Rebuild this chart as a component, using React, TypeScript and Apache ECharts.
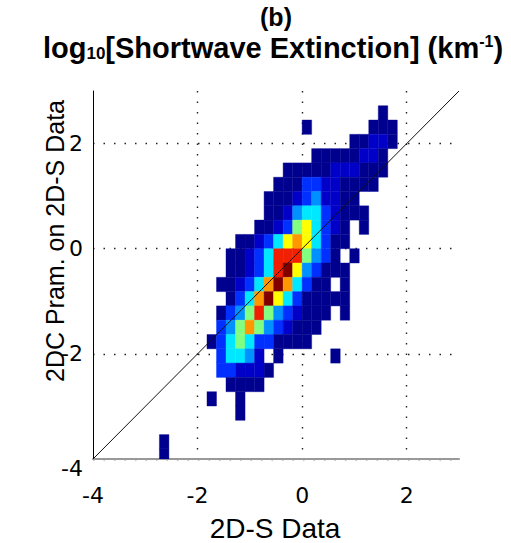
import React, { useEffect, useRef } from 'react';
import * as echarts from 'echarts';

// Histogram bin sizes (data units)
const binWidthX = 0.182;
const binHeightY = 0.272;

// Each row: bin index j (y), first bin index i (x), colour levels (1..10, 0 = empty)
const rowIndices = [9, 8, 7, 6, 5, 4, 3, 2, 1, 0, -1, -2, -3, -4, -5, -6, -7, -8, -9, -10, -11, -12, -14, -15];
const rowStarts = [8, 0, 5, 1, -2, -3, -4, -4, -5, -7, -8, -8, -9, -8, -9, -9, -10, -9, -9, -8, -10, -7, -15, -15];
const rowLevels = [
  [1],
  [1, 0, 0, 0, 0, 0, 0, 1, 1, 1],
  [1, 1, 2, 2, 1],
  [1, 1, 1, 1, 1, 2, 2, 1],
  [1, 1, 1, 1, 1, 2, 2, 2, 1, 1, 1],
  [1, 1, 1, 3, 3, 2, 2, 1, 1, 1, 1],
  [1, 1, 1, 2, 3, 4, 2, 2, 1, 1],
  [1, 1, 2, 4, 5, 5, 3, 2, 1, 1, 1],
  [1, 1, 2, 3, 6, 7, 5, 3, 2, 1, 0, 1],
  [1, 1, 2, 3, 5, 7, 8, 7, 5, 3, 1, 1],
  [1, 1, 2, 3, 5, 9, 9, 9, 6, 4, 3, 1, 0, 1],
  [1, 1, 2, 3, 5, 9, 10, 7, 4, 3, 1, 1, 1],
  [1, 1, 2, 3, 5, 8, 10, 8, 5, 3, 1, 1, 0, 1],
  [1, 3, 5, 8, 10, 7, 5, 3, 1, 1, 1, 1, 1],
  [1, 3, 4, 6, 9, 6, 4, 3, 2, 1, 1, 1, 0, 1],
  [3, 4, 6, 8, 6, 4, 3, 2, 1, 1, 1],
  [1, 3, 5, 6, 5, 3, 3, 1, 1, 1, 1],
  [3, 5, 5, 4, 2, 0, 1, 0, 0, 0, 0, 0, 1],
  [3, 3, 2, 2, 2, 1],
  [1, 1, 1, 1],
  [1, 0, 0, 1],
  [1],
  [1],
  [1],
];

// jet-like colours for levels 1..10
const levelColors = [
  '#00008f', '#0000c8', '#0030ff', '#0090ff', '#00e8ff',
  '#80ff80', '#ffff00', '#ff9800', '#f02000', '#800000',
];

const axisMin = -4;
const axisMax = 3;
const tickInterval = 2;
const diagonal = [[-4, -4], [3, 3]];

const TICK_FONT = 'DejaVu Sans';
const TEXT_FONT = 'Liberation Sans';

function buildCells() {
  const cells: number[][] = [];
  rowIndices.forEach((j, r) => {
    rowLevels[r].forEach((lvl, k) => {
      if (lvl <= 0) return;
      const i = rowStarts[r] + k;
      cells.push([i * binWidthX, j * binHeightY, (i + 1) * binWidthX, (j + 1) * binHeightY, lvl]);
    });
  });
  return cells;
}

export default function App() {
  const ref = useRef<HTMLDivElement>(null);
  useEffect(() => {
    if (!ref.current) return;
    const chart = echarts.init(ref.current, undefined, { renderer: 'svg' });
    const dotted = { type: [1.5, 9] as any, color: '#222', width: 1.4 };
    chart.setOption({
      animation: false,
      backgroundColor: '#fff',
      grid: { left: 93, top: 91, right: 52, bottom: 84, containLabel: false },
      xAxis: {
        type: 'value', min: axisMin, max: axisMax, interval: tickInterval,
        axisLine: { show: true, onZero: false, lineStyle: { color: '#999', width: 2 } },
        axisTick: { show: false },
        axisLabel: { fontSize: 22, fontFamily: TICK_FONT, color: '#000', margin: 25, showMaxLabel: false },
        splitLine: { show: true, showMinLine: false, showMaxLine: false, lineStyle: dotted },
      },
      yAxis: {
        type: 'value', min: axisMin, max: axisMax, interval: tickInterval,
        axisLine: { show: true, onZero: false, lineStyle: { color: '#000', width: 1 } },
        axisTick: { show: false },
        axisLabel: {
          fontSize: 22, fontFamily: TICK_FONT, color: '#000', margin: 10, showMaxLabel: false,
          formatter: (v: number) => (v === axisMin ? '{low|' + v + '}' : String(v)),
          rich: { low: { fontSize: 22, fontFamily: TICK_FONT, color: '#000', padding: [19, 0, 0, 0] } },
        },
        splitLine: { show: true, showMinLine: true, showMaxLine: false, lineStyle: dotted },
      },
      visualMap: {
        type: 'piecewise', show: false, dimension: 4, seriesIndex: 0,
        pieces: levelColors.map((c, k) => ({ value: k + 1, color: c })),
      },
      series: [
        {
          type: 'custom',
          clip: true,
          data: buildCells(),
          encode: { x: [0, 2], y: [1, 3] },
          renderItem: (params: any, api: any) => {
            const p0 = api.coord([api.value(0), api.value(3)]);
            const p1 = api.coord([api.value(2), api.value(1)]);
            const cs = params.coordSys;
            const shape = echarts.graphic.clipRectByRect(
              { x: p0[0], y: p0[1], width: p1[0] - p0[0], height: p1[1] - p0[1] },
              { x: cs.x, y: cs.y, width: cs.width, height: cs.height }
            );
            if (!shape) return null;
            const color = api.visual('color');
            return { type: 'rect', shape, style: { fill: color, stroke: color, lineWidth: 0.4 } };
          },
          z: 2,
        },
        {
          type: 'line',
          data: diagonal,
          symbol: 'none',
          silent: true,
          lineStyle: { color: '#111', width: 1 },
          z: 3,
        },
      ],
      graphic: [
        {
          type: 'text', x: 276, y: 16.8,
          style: { text: '(b)', fontSize: 25, fontWeight: 'bold', fontFamily: TEXT_FONT, fill: '#000', align: 'center', verticalAlign: 'middle', lineHeight: 14 },
        },
        {
          type: 'text', x: 273, y: 33,
          style: {
            text: '{m|log}{s|10}{m|[Shortwave Extinction] (km}{p|-1}{m|)}',
            align: 'center', verticalAlign: 'top', fill: '#000',
            rich: {
              m: { fontSize: 29, fontWeight: 'bold', fontFamily: TEXT_FONT, fill: '#000', lineHeight: 29, verticalAlign: 'top' },
              s: { fontSize: 17, fontWeight: 'bold', fontFamily: TEXT_FONT, fill: '#000', lineHeight: 17, padding: [23, 0, 0, 0], verticalAlign: 'bottom' },
              p: { fontSize: 16, fontWeight: 'bold', fontFamily: TEXT_FONT, fill: '#000', lineHeight: 10, verticalAlign: 'top' },
            },
          },
        },
        {
          type: 'text', x: 275, y: 528,
          style: { text: '2D-S Data', fontSize: 28, fontFamily: TEXT_FONT, fill: '#000', align: 'center', verticalAlign: 'middle' },
        },
        {
          type: 'text', x: 55, y: 241, rotation: Math.PI / 2,
          style: { text: '2DC Pram. on 2D-S Data', fontSize: 25, fontFamily: TEXT_FONT, fill: '#000', align: 'center', verticalAlign: 'middle' },
        },
      ],
    });
    return () => chart.dispose();
  }, []);
  return (
    <div
      ref={ref}
      style={{ position: 'fixed', left: 0, top: 0, width: 511, height: 543, background: '#fff' }}
    />
  );
}
